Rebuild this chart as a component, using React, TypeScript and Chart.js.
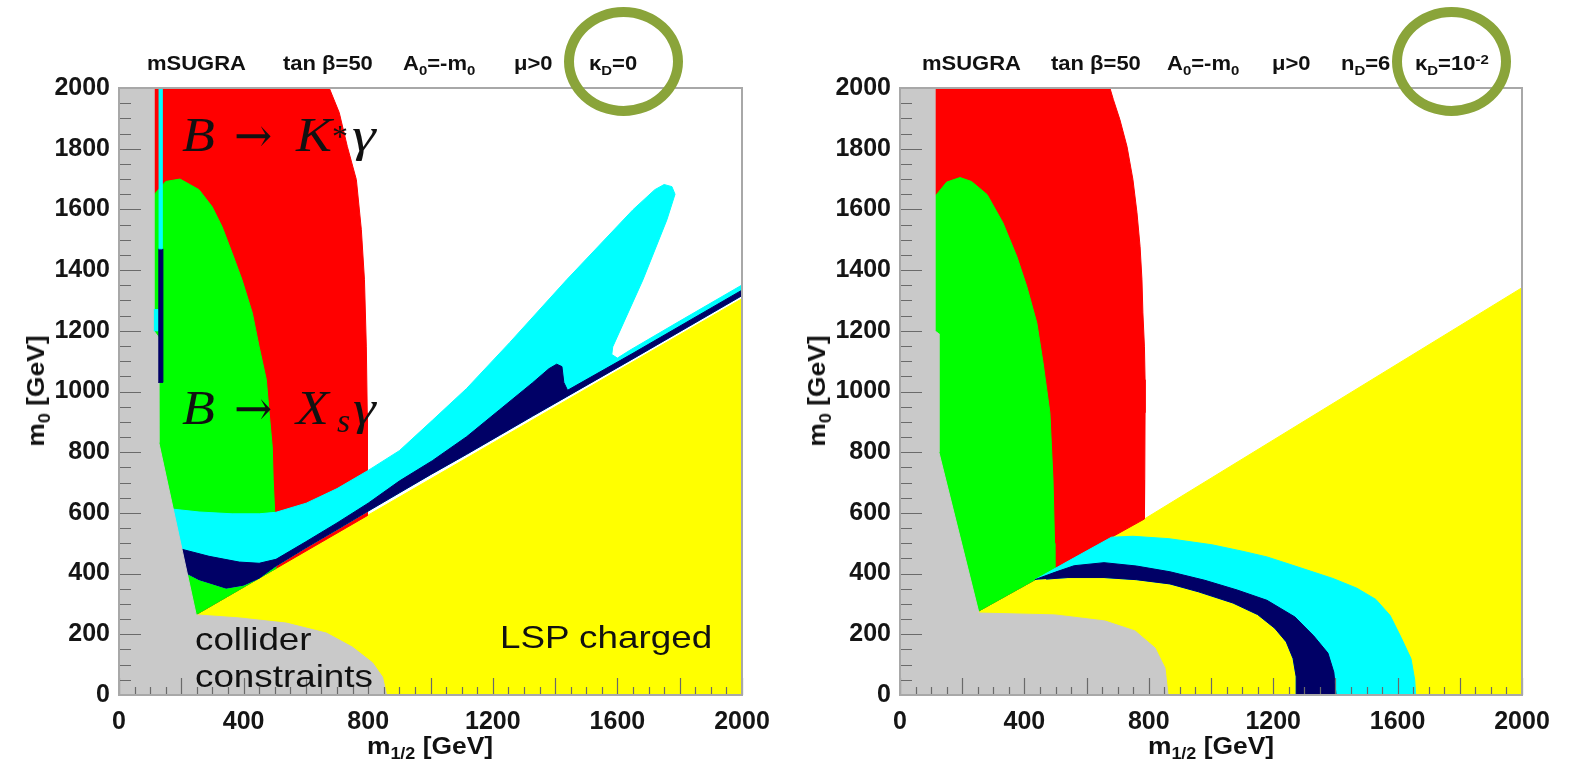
import React, { useEffect, useRef } from "react";
import { Chart, registerables } from "chart.js";

Chart.register(...registerables);

type P = [number, number];

// ---------- axis ticks ----------
const xTickValues = [0, 400, 800, 1200, 1600, 2000];
const yTickValues = [0, 200, 400, 600, 800, 1000, 1200, 1400, 1600, 1800, 2000];
const minorStep = 50;
const majorStep = 200;

// ---------- colours ----------
const YELLOW = "#ffff00";
const RED = "#ff0000";
const GREEN = "#00ff00";
const CYAN = "#00ffff";
const NAVY = "#000066";
const GREY = "#c9c9c9";

// ---------- left panel (kappa_D = 0) regions, (m1/2, m0) in GeV ----------
const L_yellow: P[] = [[248, 265], [2000, 1306], [2000, 0], [248, 0]];
const L_red: P[] = [[100, 2000], [675, 2000], [707, 1919], [733, 1807], [762, 1698], [778, 1533], [788, 1368], [794, 1147], [797, 930], [797, 709], [797, 591], [248, 265], [100, 265]];
const L_green: P[] = [[100, 1640], [112, 1648], [150, 1692], [196, 1700], [257, 1665], [299, 1609], [331, 1543], [363, 1457], [395, 1368], [428, 1259], [450, 1147], [473, 1039], [482, 930], [492, 818], [495, 709], [500, 600], [504, 417], [248, 265], [100, 265]];
const L_cyan: P[] = [[150, 615], [257, 603], [363, 597], [450, 597], [504, 602], [601, 632], [700, 680], [800, 740], [900, 805], [1006, 905], [1116, 1010], [1254, 1161], [1437, 1368], [1650, 1599], [1720, 1665], [1750, 1682], [1775, 1675], [1785, 1650], [1759, 1566], [1682, 1368], [1585, 1147], [1582, 1122], [1600, 1110], [1640, 1136], [1800, 1232], [2000, 1351], [2000, 1316], [1650, 1108], [1437, 983], [1328, 919], [1222, 856], [1116, 793], [1000, 726], [900, 666], [800, 606], [700, 545], [600, 485], [504, 425], [450, 385], [400, 362], [344, 352], [257, 380], [200, 410], [150, 450]];
const L_navy: P[] = [[150, 490], [195, 482], [289, 457], [386, 438], [450, 434], [504, 447], [600, 505], [700, 567], [800, 632], [900, 705], [1006, 772], [1116, 851], [1222, 940], [1328, 1029], [1380, 1075], [1405, 1090], [1422, 1082], [1428, 1030], [1440, 1004], [1650, 1126], [2000, 1334], [2000, 1316], [1650, 1108], [1437, 983], [1328, 919], [1222, 856], [1116, 793], [1000, 726], [900, 666], [800, 606], [700, 545], [600, 485], [504, 425], [450, 385], [400, 362], [344, 352], [257, 380], [200, 410], [150, 450]];
const L_grey: P[] = [[0, 0], [0, 2000], [112, 2000], [112, 1200], [126, 1180], [128, 831], [248, 264], [386, 254], [537, 237], [666, 204], [749, 158], [814, 106], [846, 59], [859, 0]];
const L_stripCyan: P[] = [[127, 1470], [139, 1470], [139, 2000], [127, 2000]];
const L_stripNavy: P[] = [[126, 1030], [141, 1030], [141, 1470], [126, 1470]];
const L_stripCyan2: P[] = [[112, 1200], [126, 1200], [126, 1270], [112, 1270]];

// ---------- right panel (n_D = 6, kappa_D = 1e-2) regions ----------
const R_yellow: P[] = [[254, 277], [786, 580], [2000, 1342], [2000, 0], [254, 0]];
const R_red: P[] = [[100, 2000], [675, 2000], [686, 1962], [707, 1896], [730, 1807], [749, 1698], [762, 1589], [772, 1477], [778, 1368], [781, 1259], [786, 1147], [788, 1039], [788, 930], [787, 709], [786, 580], [254, 277], [100, 277]];
const R_green: P[] = [[100, 1640], [112, 1642], [150, 1690], [193, 1705], [230, 1692], [280, 1649], [331, 1556], [376, 1444], [408, 1345], [440, 1226], [460, 1095], [482, 930], [492, 709], [497, 500], [498, 416], [254, 277], [100, 277]];
const R_cyan: P[] = [[434, 380], [560, 452], [680, 520], [749, 523], [865, 515], [1003, 495], [1100, 474], [1180, 455], [1270, 425], [1392, 384], [1469, 352], [1530, 315], [1576, 262], [1611, 190], [1643, 120], [1655, 50], [1658, 0], [1276, 0], [1274, 60], [1264, 120], [1242, 175], [1205, 220], [1150, 265], [1071, 303], [960, 340], [868, 366], [760, 380], [656, 387], [540, 387], [470, 382]];
const R_navy: P[] = [[434, 380], [500, 405], [560, 426], [656, 436], [760, 425], [868, 406], [980, 378], [1084, 346], [1180, 312], [1270, 257], [1330, 195], [1376, 138], [1395, 75], [1402, 0], [1276, 0], [1274, 60], [1264, 120], [1242, 175], [1205, 220], [1150, 265], [1071, 303], [960, 340], [868, 366], [760, 380], [656, 387], [540, 387], [470, 382]];
const R_grey: P[] = [[0, 0], [0, 2000], [112, 2000], [112, 1200], [125, 1190], [125, 800], [254, 270], [498, 264], [659, 244], [756, 211], [820, 155], [852, 89], [862, 0]];

type Layer = { pts: P[]; color: string };

// listed top-most first
const leftLayers: Layer[] = [
  { pts: L_stripCyan, color: CYAN },
  { pts: L_stripNavy, color: NAVY },
  { pts: L_stripCyan2, color: CYAN },
  { pts: L_grey, color: GREY },
  { pts: L_navy, color: NAVY },
  { pts: L_cyan, color: CYAN },
  { pts: L_green, color: GREEN },
  { pts: L_red, color: RED },
  { pts: L_yellow, color: YELLOW },
];
const rightLayers: Layer[] = [
  { pts: R_grey, color: GREY },
  { pts: R_navy, color: NAVY },
  { pts: R_cyan, color: CYAN },
  { pts: R_green, color: GREEN },
  { pts: R_red, color: RED },
  { pts: R_yellow, color: YELLOW },
];

const SANS = "'Liberation Sans', Arial, Helvetica, sans-serif";
const SERIF = "'Liberation Serif', 'DejaVu Serif', 'Times New Roman', serif";
const DSERIF = "'DejaVu Serif', 'Liberation Serif', serif";
const H = 766;
const PLOT_TOP = 88;
const PLOT_BOTTOM = 695;

const frameTicks = {
  id: "frameTicks",
  afterDatasetsDraw(chart: any) {
    const { ctx, chartArea: a, scales } = chart;
    const xs = scales.x;
    const ys = scales.y;
    ctx.save();
    ctx.strokeStyle = "#6a6a6a";
    ctx.lineWidth = 1.2;
    ctx.beginPath();
    for (let v = 0; v <= 2000; v += minorStep) {
      const major = v % majorStep === 0;
      const px = Math.round(xs.getPixelForValue(v)) + 0.5;
      ctx.moveTo(px, a.bottom);
      ctx.lineTo(px, a.bottom - (major ? 17 : 8));
      const py = Math.round(ys.getPixelForValue(v)) + 0.5;
      ctx.moveTo(a.left, py);
      ctx.lineTo(a.left + (major ? 22 : 12), py);
    }
    ctx.stroke();
    ctx.strokeStyle = "#a8a8a8";
    ctx.lineWidth = 2;
    ctx.strokeRect(a.left, a.top, a.right - a.left, a.bottom - a.top);
    ctx.restore();
  },
};

function Panel({ left, width, plotLeft, plotRight, layers }: { left: number; width: number; plotLeft: number; plotRight: number; layers: Layer[] }) {
  const ref = useRef<HTMLCanvasElement>(null);
  useEffect(() => {
    const tickFont = { family: SANS, size: 25, weight: "bold" as const };
    const chart = new Chart(ref.current as HTMLCanvasElement, {
      type: "line",
      data: {
        datasets: layers.map((l, i) => ({
          data: l.pts.map(([x, y]) => ({ x, y })),
          backgroundColor: l.color,
          borderColor: l.color,
          borderWidth: 1,
          fill: "shape",
          pointRadius: 0,
          pointHoverRadius: 0,
          tension: 0,
          order: i,
        })) as any,
      },
      options: {
        animation: false,
        responsive: false,
        devicePixelRatio: 1,
        events: [],
        layout: { padding: { top: PLOT_TOP, right: width - plotRight, left: 0, bottom: 0 } },
        plugins: { legend: { display: false }, tooltip: { enabled: false }, title: { display: false } },
        scales: {
          x: {
            type: "linear",
            min: 0,
            max: 2000,
            grid: { display: false, drawTicks: false },
            border: { display: false },
            ticks: { color: "#151515", font: tickFont, padding: 12, maxRotation: 0, autoSkip: false, callback: (v: any) => String(v) },
            afterBuildTicks: (s: any) => {
              s.ticks = xTickValues.map((value) => ({ value }));
            },
            afterFit: (s: any) => {
              s.height = H - PLOT_BOTTOM;
            },
          },
          y: {
            type: "linear",
            min: 0,
            max: 2000,
            grid: { display: false, drawTicks: false },
            border: { display: false },
            ticks: { color: "#151515", font: tickFont, padding: 9, autoSkip: false, callback: (v: any) => String(v) },
            afterBuildTicks: (s: any) => {
              s.ticks = yTickValues.map((value) => ({ value }));
            },
            afterFit: (s: any) => {
              s.width = plotLeft;
            },
          },
        },
      } as any,
      plugins: [frameTicks],
    });
    return () => chart.destroy();
  }, []);
  return (
    <canvas
      ref={ref}
      width={width}
      height={H}
      style={{ position: "absolute", left, top: 0, width, height: H }}
    />
  );
}

function T({ x, base, size, bold = false, italic = false, family = SANS, sx = 1, children }: any) {
  return (
    <div
      style={{
        position: "absolute",
        left: x,
        top: base - size * 0.845,
        fontFamily: family,
        fontSize: size,
        lineHeight: `${size}px`,
        fontWeight: bold ? 700 : 400,
        fontStyle: italic ? "italic" : "normal",
        whiteSpace: "nowrap",
        transform: `scaleX(${sx})`,
        transformOrigin: "left center",
        color: "#111",
      }}
    >
      {children}
    </div>
  );
}

const Sub = ({ children }: any) => (
  <span style={{ fontSize: "0.68em", position: "relative", top: "0.35em" }}>{children}</span>
);
const Sup = ({ children }: any) => (
  <span style={{ fontSize: "0.68em", position: "relative", top: "-0.45em" }}>{children}</span>
);

function XTitle({ cx }: { cx: number }) {
  return (
    <div
      style={{
        position: "absolute",
        left: cx,
        top: 754 - 24 * 0.845,
        fontFamily: SANS,
        fontSize: 24,
        lineHeight: "24px",
        fontWeight: 700,
        whiteSpace: "nowrap",
        transform: "translateX(-50%) scaleX(1.1)",
        color: "#111",
      }}
    >
      m<Sub>1/2</Sub> [GeV]
    </div>
  );
}

function YTitle({ cx }: { cx: number }) {
  return (
    <div
      style={{
        position: "absolute",
        left: cx,
        top: 391,
        fontFamily: SANS,
        fontSize: 24,
        lineHeight: "24px",
        fontWeight: 700,
        whiteSpace: "nowrap",
        transform: "translate(-50%, -50%) rotate(-90deg) scaleX(1.1)",
        color: "#111",
      }}
    >
      m<Sub>0</Sub> [GeV]
    </div>
  );
}

function Ring({ x1, x2, y1, y2 }: { x1: number; x2: number; y1: number; y2: number }) {
  return (
    <div
      style={{
        position: "absolute",
        left: x1,
        top: y1,
        width: x2 - x1,
        height: y2 - y1,
        boxSizing: "border-box",
        border: "10px solid #8aa43a",
        borderRadius: "50%",
      }}
    />
  );
}

export default function App() {
  const hs = 20;
  const hb = 70;
  const hsx = 1.1;
  return (
    <div style={{ position: "absolute", left: 0, top: 0, width: 1575, height: H, background: "#fff", overflow: "hidden" }}>
      <Panel left={0} width={787} plotLeft={119} plotRight={742} layers={leftLayers} />
      <Panel left={787} width={788} plotLeft={113} plotRight={735} layers={rightLayers} />

      {/* left header */}
      <T x={147} base={hb} size={hs} bold sx={hsx}>mSUGRA</T>
      <T x={283} base={hb} size={hs} bold sx={hsx}>tan β=50</T>
      <T x={403} base={hb} size={hs} bold sx={hsx}>A<Sub>0</Sub>=-m<Sub>0</Sub></T>
      <T x={514} base={hb} size={hs} bold sx={hsx}>μ&gt;0</T>
      <T x={589} base={hb} size={hs} bold sx={hsx}>κ<Sub>D</Sub>=0</T>

      {/* right header */}
      <T x={922} base={hb} size={hs} bold sx={hsx}>mSUGRA</T>
      <T x={1051} base={hb} size={hs} bold sx={hsx}>tan β=50</T>
      <T x={1167} base={hb} size={hs} bold sx={hsx}>A<Sub>0</Sub>=-m<Sub>0</Sub></T>
      <T x={1272} base={hb} size={hs} bold sx={hsx}>μ&gt;0</T>
      <T x={1341} base={hb} size={hs} bold sx={hsx}>n<Sub>D</Sub>=6</T>
      <T x={1415} base={hb} size={hs} bold sx={hsx}>κ<Sub>D</Sub>=10<Sup>-2</Sup></T>

      <Ring x1={564} x2={683} y1={7} y2={116} />
      <Ring x1={1392} x2={1511} y1={7} y2={116} />

      {/* axis titles */}
      <XTitle cx={430} />
      <XTitle cx={1211} />
      <YTitle cx={37} />
      <YTitle cx={818} />

      {/* annotations: B -> K* gamma */}
      <T x={182} base={152} size={48} italic family={SERIF} sx={1.12}>B</T>
      <T x={234} base={152} size={48} family={DSERIF} sx={0.95}>→</T>
      <T x={296} base={152} size={48} italic family={SERIF} sx={1.12}>K</T>
      <T x={332} base={147} size={32} family={SERIF}>*</T>
      <T x={352} base={152} size={48} italic family={SERIF} sx={1.25}>γ</T>

      {/* B -> X_s gamma */}
      <T x={182} base={425} size={48} italic family={SERIF} sx={1.12}>B</T>
      <T x={234} base={425} size={48} family={DSERIF} sx={0.95}>→</T>
      <T x={296} base={425} size={48} italic family={SERIF} sx={1.12}>X</T>
      <T x={337} base={433} size={34} italic family={SERIF}>s</T>
      <T x={353} base={425} size={48} italic family={SERIF} sx={1.2}>γ</T>

      <T x={195} base={650} size={32} sx={1.15}>collider</T>
      <T x={195} base={687} size={32} sx={1.15}>constraints</T>
      <T x={500} base={648} size={32} sx={1.15}>LSP charged</T>
    </div>
  );
}
